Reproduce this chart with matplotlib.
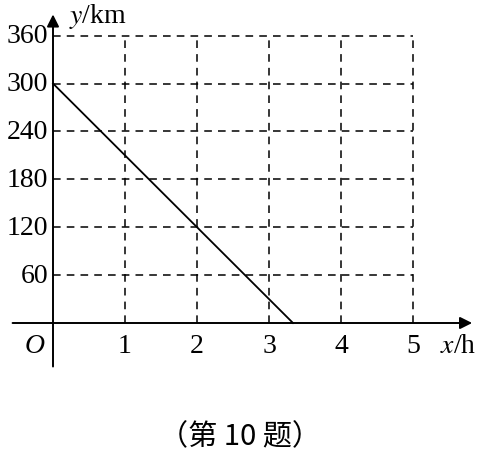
from matplotlib import pyplot as plt
import numpy as np

# data
x_ticks = [1, 2, 3, 4, 5]
y_ticks = [60, 120, 180, 240, 300, 360]
line_x = [0, 10 / 3]
line_y = [300, 0]
caption = '（第 10 题）'

plt.rcParams['font.family'] = ['Liberation Serif', 'Noto Sans CJK SC']

fig = plt.figure(figsize=(4.81, 4.52), dpi=100)
ax = fig.add_axes([0, 0, 1, 1])
ax.axis('off')

# map data to pixels: origin at (53, 324), 72 px per hour, 0.798 px per km
px_x, px_y = 72.0, 47.9 / 60
ax.set_xlim(-53 / px_x, (481 - 53) / px_x)
ax.set_ylim(-(452 - 324) / px_y, 324 / px_y)

dash = dict(color='black', lw=1.1, linestyle=(0, (5, 4)))
for yt in y_ticks:
    ax.plot([0, 5], [yt, yt], **dash)
for xt in x_ticks:
    ax.plot([xt, xt], [0, 360], **dash)

# axes with arrows
ax.annotate('', xy=(5.86, 0), xytext=(-0.6, 0),
            arrowprops=dict(arrowstyle='-|>', color='black', lw=1.4,
                            mutation_scale=18))
ax.annotate('', xy=(0, 390), xytext=(0, -58),
            arrowprops=dict(arrowstyle='-|>', color='black', lw=1.4,
                            mutation_scale=18))

# the graph line
ax.plot(line_x, line_y, color='black', lw=1.3)

fs = 20
for yt in y_ticks:
    ax.text(-0.07, yt, str(yt), ha='right', va='center', fontsize=fs)
for xt in x_ticks:
    ax.text(xt, -28, str(xt), ha='center', va='center', fontsize=fs)
ax.text(-0.25, -28, 'O', ha='center', va='center', fontsize=fs, style='italic')
ax.text(5.62, -28, r'$x$/h', ha='center', va='center', fontsize=fs,
        math_fontfamily='stix')
ax.text(0.22, 385, r'$y$/km', ha='left', va='center', fontsize=fs,
        math_fontfamily='stix')

fig.text(0.5, 1 - 437 / 452, caption, ha='center', va='center', fontsize=21,
         family=['Noto Sans CJK SC', 'Liberation Serif'])

fig.savefig('out.png', dpi=100)
